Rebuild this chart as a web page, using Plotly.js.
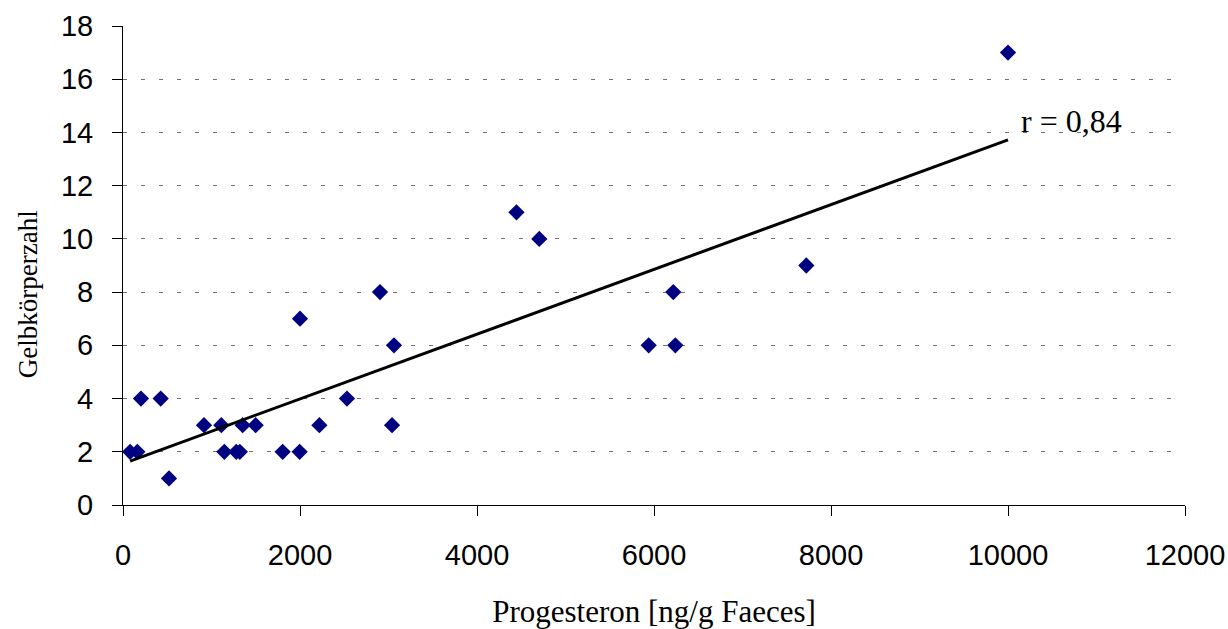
<!DOCTYPE html>
<html>
<head>
<meta charset="utf-8">
<script src="https://cdn.plot.ly/plotly-3.0.1.min.js"></script>
<style>html,body{margin:0;padding:0;background:#fff;} #chart{width:1228px;height:629px;}</style>
</head>
<body>
<div id="chart"></div>
<script>
// Data
const progesteron = [80, 162, 203, 426, 520, 915, 1111, 1145, 1280, 1320, 1352, 1499, 1804, 1996, 2000, 2219, 2531, 2904, 3040, 3062, 4446, 4704, 5940, 6218, 6241, 7721, 10000];
const gelbkoerper = [2, 2, 4, 4, 1, 3, 3, 2, 2, 2, 3, 3, 2, 2, 7, 3, 4, 8, 3, 6, 11, 10, 6, 8, 6, 9, 17];
const xTitle = 'Progesteron [ng/g Faeces]';
const yTitle = 'Gelbkörperzahl';

// Linear regression (trend line) and correlation coefficient from the data
const n = progesteron.length;
const mx = progesteron.reduce((a, b) => a + b, 0) / n;
const my = gelbkoerper.reduce((a, b) => a + b, 0) / n;
let sxx = 0, sxy = 0, syy = 0;
for (let i = 0; i < n; i++) {
  const dx = progesteron[i] - mx, dy = gelbkoerper[i] - my;
  sxx += dx * dx; sxy += dx * dy; syy += dy * dy;
}
const slope = sxy / sxx;
const intercept = my - slope * mx;
const r = sxy / Math.sqrt(sxx * syy);
const xMin = Math.min(...progesteron), xMax = Math.max(...progesteron);
const trendX = [xMin, xMax];
const trendY = trendX.map(v => intercept + slope * v);
const rLabel = 'r = ' + r.toFixed(2).replace('.', ',');

const traces = [
  {
    x: progesteron, y: gelbkoerper, type: 'scatter', mode: 'markers',
    marker: {symbol: 'diamond', size: 12.5, color: '#000080', line: {width: 0}},
    showlegend: false, hoverinfo: 'x+y'
  },
  {
    x: trendX, y: trendY, type: 'scatter', mode: 'lines',
    line: {color: '#000000', width: 3},
    showlegend: false, hoverinfo: 'skip'
  }
];

const layout = {
  width: 1228, height: 629,
  margin: {l: 123, r: 43, t: 26, b: 124},
  paper_bgcolor: '#ffffff', plot_bgcolor: '#ffffff',
  showlegend: false,
  xaxis: {
    range: [0, 12000], dtick: 2000, tick0: 0, tickformat: 'd',
    showgrid: false, zeroline: false,
    showline: true, linecolor: '#000000', linewidth: 1,
    ticks: 'outside', ticklen: 10, tickcolor: '#000000', tickwidth: 1,
    ticklabelstandoff: 14,
    tickfont: {family: 'Liberation Sans, Arial, sans-serif', size: 29, color: '#000000'},
    title: {text: xTitle, standoff: 31, font: {family: 'Liberation Serif, Times New Roman, serif', size: 31, color: '#000000'}},
    automargin: false, fixedrange: true
  },
  yaxis: {
    range: [0, 18], dtick: 2, tick0: 0,
    showgrid: true, gridcolor: '#707070', gridwidth: 1, griddash: '4px,14px',
    zeroline: false,
    showline: true, linecolor: '#000000', linewidth: 1,
    ticks: 'outside', ticklen: 10, tickcolor: '#000000', tickwidth: 1,
    ticklabelstandoff: 13,
    tickfont: {family: 'Liberation Sans, Arial, sans-serif', size: 29, color: '#000000'},
    automargin: false, fixedrange: true
  },
  annotations: [
    {
      text: yTitle, xref: 'paper', yref: 'paper', x: -0.0895, y: 0.44,
      xanchor: 'center', yanchor: 'middle', textangle: -90, showarrow: false,
      font: {family: 'Liberation Serif, Times New Roman, serif', size: 27, color: '#000000'}
    },
    {
      text: rLabel, xref: 'paper', yref: 'paper', x: 0.8437, y: 0.8017,
      xanchor: 'left', yanchor: 'middle', showarrow: false,
      font: {family: 'Liberation Serif, Times New Roman, serif', size: 32, color: '#000000'}
    }
  ]
};

Plotly.newPlot('chart', traces, layout, {staticPlot: true, displayModeBar: false});
</script>
</body>
</html>
